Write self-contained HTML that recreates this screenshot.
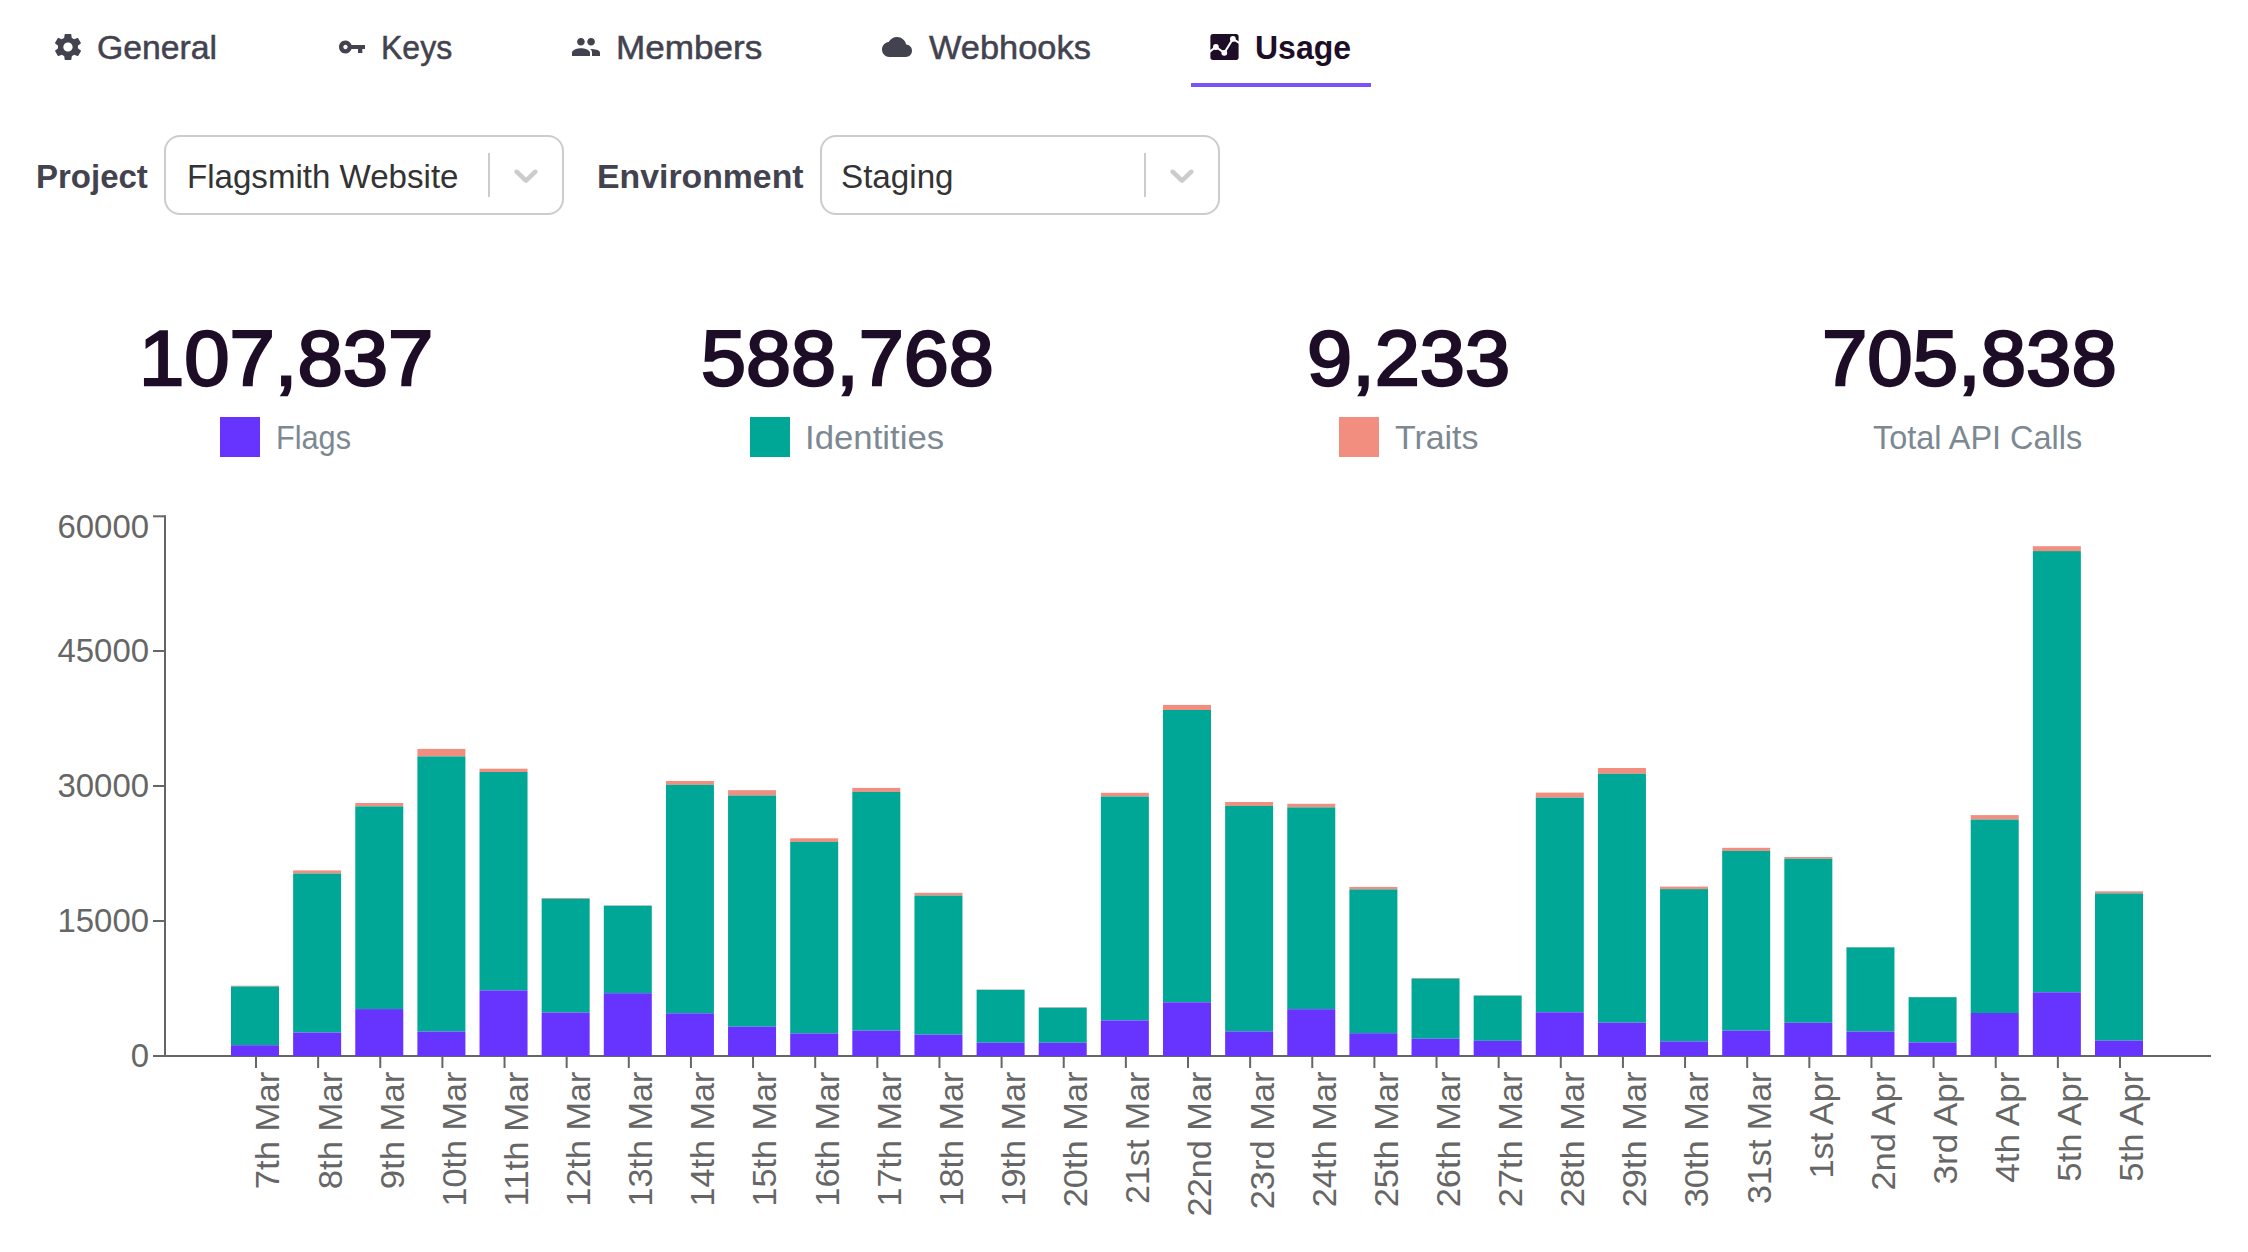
<!DOCTYPE html>
<html lang="en">
<head>
<meta charset="utf-8">
<title>Usage</title>
<style>
html,body{margin:0;padding:0;background:#fff;}
body{width:2248px;height:1252px;position:relative;overflow:hidden;font-family:"Liberation Sans",sans-serif;}
.t{position:absolute;white-space:nowrap;line-height:1;transform-origin:0 0;}
.ico{position:absolute;display:block;overflow:visible;}
.tab{color:#43424f;-webkit-text-stroke:0.5px #43424f;}
.tab.active{color:#1e0d26;font-weight:700;-webkit-text-stroke:0;}
.underline{position:absolute;left:1191px;top:83px;width:180px;height:4px;background:#7b51fb;}
.lbl{color:#43424f;font-weight:700;}
.sel{position:absolute;top:135px;height:76px;width:396px;border:2px solid #cccccc;border-radius:16px;background:#fff;}
.sel .sep{position:absolute;left:322px;top:16px;width:2px;height:44px;background:#cccccc;}
.sel svg{position:absolute;left:340px;top:18px;}
.val{color:#333333;}
.num{color:#1e0d26;font-weight:400;-webkit-text-stroke:2.4px #1e0d26;}
.cap{color:#7c8992;}
.sq{position:absolute;top:417px;width:40px;height:40px;}
.chart{position:absolute;left:0;top:500px;font-family:"Liberation Sans",sans-serif;}
</style>
</head>
<body>
<nav class="tabs">
<svg class="ico" style="left:52px;top:31px" width="32" height="32" viewBox="0 0 512 512"><path fill="#43424f" d="M413.967 276.8c1.06-6.235 1.06-13.518 1.06-20.8s-1.06-13.518-1.06-20.8l44.667-34.318c4.26-3.118 5.319-8.317 2.13-13.518L418.215 115.6c-2.129-4.164-8.507-6.235-12.767-4.164l-53.186 20.801c-10.638-8.318-23.394-15.601-36.16-20.801l-7.448-55.117c-1.06-4.154-5.319-8.318-10.638-8.318h-85.098c-5.318 0-9.577 4.164-10.637 8.318l-8.508 55.117c-12.767 5.2-24.464 12.482-36.171 20.801l-53.186-20.801c-5.319-2.071-10.638 0-12.767 4.164L49.1 187.365c-2.119 4.153-1.061 10.399 2.129 13.518L96.97 235.2c0 7.282-1.06 13.518-1.06 20.8s1.06 13.518 1.06 20.8l-44.668 34.318c-4.26 3.118-5.318 8.317-2.13 13.518L92.721 396.4c2.13 4.164 8.508 6.235 12.767 4.164l53.187-20.801c10.637 8.318 23.394 15.601 36.16 20.801l8.508 55.117c1.069 5.2 5.318 8.318 10.637 8.318h85.098c5.319 0 9.578-4.164 10.638-8.318l8.518-55.117c12.757-5.2 24.464-12.482 36.16-20.801l53.187 20.801c5.318 2.071 10.637 0 12.767-4.164l42.549-71.765c2.129-4.153 1.06-10.399-2.13-13.518l-46.8-34.317zm-158.499 52c-41.489 0-74.46-32.235-74.46-72.8s32.971-72.8 74.46-72.8 74.46 32.235 74.46 72.8-32.971 72.8-74.46 72.8z"/></svg><span class="t tab" style="left:97.43px;top:30.60px;font-size:33px;letter-spacing:0.000px;transform:scaleX(1.0230);">General</span>
<svg class="ico" style="left:336px;top:31px" width="32" height="32" viewBox="0 0 512 512"><path fill="#43424f" d="M249.2 224c-14.2-40.2-55.1-72-100.2-72-57.2 0-101 46.8-101 104s45.8 104 103 104c45.1 0 84.1-31.8 98.2-72H352v64h69.1v-64H464v-64H249.2zm-97.6 66.5c-19 0-34.5-15.5-34.5-34.5s15.5-34.5 34.5-34.5 34.5 15.5 34.5 34.5-15.5 34.5-34.5 34.5z"/></svg><span class="t tab" style="left:381.14px;top:30.60px;font-size:33px;letter-spacing:0.000px;transform:scaleX(0.9696);">Keys</span>
<svg class="ico" style="left:570px;top:31px" width="32" height="32" viewBox="0 0 512 512"><path fill="#43424f" d="M337.454 232c33.599 0 61.092-27.002 61.092-60 0-32.997-27.493-60-61.092-60s-61.09 27.003-61.09 60c0 32.998 27.491 60 61.09 60zm-162.908 0c33.599 0 61.09-27.002 61.09-60 0-32.997-27.491-60-61.09-60s-61.092 27.003-61.092 60c0 32.998 27.493 60 61.092 60zm0 44C126.688 276 32 298.998 32 346v54h288v-54c0-47.002-97.599-70-145.454-70zm162.908 11.003c-6.105 0-10.325 0-17.454.997 23.426 17.002 32 28 32 58v54h128v-54c0-47.002-94.688-58.997-142.546-58.997z"/></svg><span class="t tab" style="left:616.15px;top:30.60px;font-size:33px;letter-spacing:0.000px;transform:scaleX(1.0643);">Members</span>
<svg class="ico" style="left:881.4px;top:31px" width="32" height="32" viewBox="0 0 512 512"><path fill="#43424f" d="M403.002 217.001C388.998 148.002 328.998 96 256 96c-57.998 0-107.998 32.998-132.998 81.001C63.002 183.002 16 233.998 16 296c0 65.996 53.999 120 120 120h260c55 0 100-45 100-100 0-52.998-40.996-96.001-92.998-98.999z"/></svg><span class="t tab" style="left:928.94px;top:30.60px;font-size:33px;letter-spacing:0.000px;transform:scaleX(1.0423);">Webhooks</span>
<svg class="ico" style="left:1210px;top:34px" width="29" height="26" viewBox="0 0 29 26">
<rect x="0.4" y="0.1" width="28.2" height="25.8" rx="2.6" fill="#1e0d26"/>
<polyline points="-0.6,17.9 5.9,13 14.3,18.8 22.9,4.9 29.6,9.1" fill="none" stroke="#fff" stroke-width="2"/>
<circle cx="5.9" cy="13" r="2.9" fill="#fff"/><circle cx="14.3" cy="18.8" r="2.9" fill="#fff"/><circle cx="22.9" cy="4.9" r="2.9" fill="#fff"/>
</svg><span class="t tab active" style="left:1255.12px;top:30.60px;font-size:33px;letter-spacing:0.000px;transform:scaleX(0.9692);">Usage</span>
<div class="underline"></div>
</nav>
<section class="filters">
<span class="t lbl" style="left:36.20px;top:159.90px;font-size:33px;letter-spacing:0.000px;transform:scaleX(0.9998);">Project</span>
<div class="sel" style="left:164px"><div class="sep"></div><svg width="40" height="40" viewBox="0 0 20 20"><path fill="#cccccc" d="M4.516 7.548c0.436-0.446 1.043-0.481 1.576 0l3.908 3.747 3.908-3.747c0.533-0.481 1.141-0.446 1.574 0 0.436 0.445 0.408 1.197 0 1.615-0.406 0.418-4.695 4.502-4.695 4.502-0.217 0.223-0.502 0.335-0.787 0.335s-0.57-0.112-0.789-0.335c0 0-4.287-4.084-4.695-4.502s-0.436-1.17 0-1.615z"/></svg></div>
<span class="t val" style="left:187.12px;top:159.90px;font-size:33px;letter-spacing:0.000px;transform:scaleX(1.0025);">Flagsmith Website</span>
<span class="t lbl" style="left:597.32px;top:159.90px;font-size:33px;letter-spacing:0.000px;transform:scaleX(1.0242);">Environment</span>
<div class="sel" style="left:820px"><div class="sep"></div><svg width="40" height="40" viewBox="0 0 20 20"><path fill="#cccccc" d="M4.516 7.548c0.436-0.446 1.043-0.481 1.576 0l3.908 3.747 3.908-3.747c0.533-0.481 1.141-0.446 1.574 0 0.436 0.445 0.408 1.197 0 1.615-0.406 0.418-4.695 4.502-4.695 4.502-0.217 0.223-0.502 0.335-0.787 0.335s-0.57-0.112-0.789-0.335c0 0-4.287-4.084-4.695-4.502s-0.436-1.17 0-1.615z"/></svg></div>
<span class="t val" style="left:840.58px;top:159.90px;font-size:33px;letter-spacing:0.000px;transform:scaleX(1.0058);">Staging</span>
</section>
<section class="stats">
<span class="t num" style="left:139.01px;top:318.68px;font-size:78px;letter-spacing:0.000px;transform:scaleX(1.0439);">107,837</span>
<div class="sq" style="left:220px;background:#6633ff"></div><span class="t cap" style="left:275.89px;top:420.98px;font-size:33px;letter-spacing:0.000px;transform:scaleX(0.9296);">Flags</span>
<span class="t num" style="left:701.16px;top:318.68px;font-size:78px;letter-spacing:0.000px;transform:scaleX(1.0385);">588,768</span>
<div class="sq" style="left:750px;background:#00a696"></div><span class="t cap" style="left:805.49px;top:420.98px;font-size:33px;letter-spacing:0.000px;transform:scaleX(1.0531);">Identities</span>
<span class="t num" style="left:1306.71px;top:318.68px;font-size:78px;letter-spacing:0.000px;transform:scaleX(1.0407);">9,233</span>
<div class="sq" style="left:1339px;background:#f18e7f"></div><span class="t cap" style="left:1394.67px;top:420.98px;font-size:33px;letter-spacing:0.000px;transform:scaleX(1.0269);">Traits</span>
<span class="t num" style="left:1821.92px;top:318.68px;font-size:78px;letter-spacing:0.000px;transform:scaleX(1.0456);">705,838</span>
<span class="t cap" style="left:1873.11px;top:420.98px;font-size:33px;letter-spacing:0.000px;transform:scaleX(0.9831);">Total API Calls</span>
</section>
<svg class="chart" width="2248" height="752" viewBox="0 500 2248 752">
<g class="axes" stroke="#666666" stroke-width="2" fill="none">
<line x1="165" y1="515.3" x2="165" y2="1056.0"/>
<line x1="165" y1="1056.0" x2="2211" y2="1056.0"/>
<line x1="153" y1="516.3" x2="165" y2="516.3"/>
<line x1="153" y1="651.0" x2="165" y2="651.0"/>
<line x1="153" y1="786.0" x2="165" y2="786.0"/>
<line x1="153" y1="921.0" x2="165" y2="921.0"/>
<line x1="153" y1="1056.0" x2="165" y2="1056.0"/>
<line x1="256.00" y1="1056.0" x2="256.00" y2="1068.0"/>
<line x1="318.13" y1="1056.0" x2="318.13" y2="1068.0"/>
<line x1="380.27" y1="1056.0" x2="380.27" y2="1068.0"/>
<line x1="442.40" y1="1056.0" x2="442.40" y2="1068.0"/>
<line x1="504.53" y1="1056.0" x2="504.53" y2="1068.0"/>
<line x1="566.66" y1="1056.0" x2="566.66" y2="1068.0"/>
<line x1="628.80" y1="1056.0" x2="628.80" y2="1068.0"/>
<line x1="690.93" y1="1056.0" x2="690.93" y2="1068.0"/>
<line x1="753.06" y1="1056.0" x2="753.06" y2="1068.0"/>
<line x1="815.20" y1="1056.0" x2="815.20" y2="1068.0"/>
<line x1="877.33" y1="1056.0" x2="877.33" y2="1068.0"/>
<line x1="939.46" y1="1056.0" x2="939.46" y2="1068.0"/>
<line x1="1001.60" y1="1056.0" x2="1001.60" y2="1068.0"/>
<line x1="1063.73" y1="1056.0" x2="1063.73" y2="1068.0"/>
<line x1="1125.86" y1="1056.0" x2="1125.86" y2="1068.0"/>
<line x1="1187.99" y1="1056.0" x2="1187.99" y2="1068.0"/>
<line x1="1250.13" y1="1056.0" x2="1250.13" y2="1068.0"/>
<line x1="1312.26" y1="1056.0" x2="1312.26" y2="1068.0"/>
<line x1="1374.39" y1="1056.0" x2="1374.39" y2="1068.0"/>
<line x1="1436.53" y1="1056.0" x2="1436.53" y2="1068.0"/>
<line x1="1498.66" y1="1056.0" x2="1498.66" y2="1068.0"/>
<line x1="1560.79" y1="1056.0" x2="1560.79" y2="1068.0"/>
<line x1="1622.93" y1="1056.0" x2="1622.93" y2="1068.0"/>
<line x1="1685.06" y1="1056.0" x2="1685.06" y2="1068.0"/>
<line x1="1747.19" y1="1056.0" x2="1747.19" y2="1068.0"/>
<line x1="1809.33" y1="1056.0" x2="1809.33" y2="1068.0"/>
<line x1="1871.46" y1="1056.0" x2="1871.46" y2="1068.0"/>
<line x1="1933.59" y1="1056.0" x2="1933.59" y2="1068.0"/>
<line x1="1995.72" y1="1056.0" x2="1995.72" y2="1068.0"/>
<line x1="2057.86" y1="1056.0" x2="2057.86" y2="1068.0"/>
<line x1="2119.99" y1="1056.0" x2="2119.99" y2="1068.0"/>
</g>
<g class="bars">
<rect x="231.00" y="985.70" width="48.0" height="0.80" fill="#f18e7f"/>
<rect x="231.00" y="986.50" width="48.0" height="58.70" fill="#00a696"/>
<rect x="231.00" y="1045.20" width="48.0" height="10.80" fill="#6633ff"/>
<rect x="293.13" y="870.40" width="48.0" height="3.10" fill="#f18e7f"/>
<rect x="293.13" y="873.50" width="48.0" height="159.00" fill="#00a696"/>
<rect x="293.13" y="1032.50" width="48.0" height="23.50" fill="#6633ff"/>
<rect x="355.27" y="803.00" width="48.0" height="3.40" fill="#f18e7f"/>
<rect x="355.27" y="806.40" width="48.0" height="202.70" fill="#00a696"/>
<rect x="355.27" y="1009.10" width="48.0" height="46.90" fill="#6633ff"/>
<rect x="417.40" y="748.90" width="48.0" height="7.50" fill="#f18e7f"/>
<rect x="417.40" y="756.40" width="48.0" height="275.10" fill="#00a696"/>
<rect x="417.40" y="1031.50" width="48.0" height="24.50" fill="#6633ff"/>
<rect x="479.53" y="768.70" width="48.0" height="3.30" fill="#f18e7f"/>
<rect x="479.53" y="772.00" width="48.0" height="218.40" fill="#00a696"/>
<rect x="479.53" y="990.40" width="48.0" height="65.60" fill="#6633ff"/>
<rect x="541.66" y="898.00" width="48.0" height="0.70" fill="#f18e7f"/>
<rect x="541.66" y="898.70" width="48.0" height="113.80" fill="#00a696"/>
<rect x="541.66" y="1012.50" width="48.0" height="43.50" fill="#6633ff"/>
<rect x="603.80" y="905.40" width="48.0" height="0.30" fill="#f18e7f"/>
<rect x="603.80" y="905.70" width="48.0" height="87.50" fill="#00a696"/>
<rect x="603.80" y="993.20" width="48.0" height="62.80" fill="#6633ff"/>
<rect x="665.93" y="781.00" width="48.0" height="3.80" fill="#f18e7f"/>
<rect x="665.93" y="784.80" width="48.0" height="228.50" fill="#00a696"/>
<rect x="665.93" y="1013.30" width="48.0" height="42.70" fill="#6633ff"/>
<rect x="728.06" y="790.20" width="48.0" height="5.30" fill="#f18e7f"/>
<rect x="728.06" y="795.50" width="48.0" height="231.20" fill="#00a696"/>
<rect x="728.06" y="1026.70" width="48.0" height="29.30" fill="#6633ff"/>
<rect x="790.20" y="838.30" width="48.0" height="3.60" fill="#f18e7f"/>
<rect x="790.20" y="841.90" width="48.0" height="191.50" fill="#00a696"/>
<rect x="790.20" y="1033.40" width="48.0" height="22.60" fill="#6633ff"/>
<rect x="852.33" y="787.90" width="48.0" height="4.00" fill="#f18e7f"/>
<rect x="852.33" y="791.90" width="48.0" height="238.70" fill="#00a696"/>
<rect x="852.33" y="1030.60" width="48.0" height="25.40" fill="#6633ff"/>
<rect x="914.46" y="892.80" width="48.0" height="2.80" fill="#f18e7f"/>
<rect x="914.46" y="895.60" width="48.0" height="139.00" fill="#00a696"/>
<rect x="914.46" y="1034.60" width="48.0" height="21.40" fill="#6633ff"/>
<rect x="976.60" y="989.50" width="48.0" height="0.30" fill="#f18e7f"/>
<rect x="976.60" y="989.80" width="48.0" height="52.90" fill="#00a696"/>
<rect x="976.60" y="1042.70" width="48.0" height="13.30" fill="#6633ff"/>
<rect x="1038.73" y="1007.20" width="48.0" height="0.50" fill="#f18e7f"/>
<rect x="1038.73" y="1007.70" width="48.0" height="35.00" fill="#00a696"/>
<rect x="1038.73" y="1042.70" width="48.0" height="13.30" fill="#6633ff"/>
<rect x="1100.86" y="792.80" width="48.0" height="3.70" fill="#f18e7f"/>
<rect x="1100.86" y="796.50" width="48.0" height="223.90" fill="#00a696"/>
<rect x="1100.86" y="1020.40" width="48.0" height="35.60" fill="#6633ff"/>
<rect x="1162.99" y="704.90" width="48.0" height="5.10" fill="#f18e7f"/>
<rect x="1162.99" y="710.00" width="48.0" height="292.30" fill="#00a696"/>
<rect x="1162.99" y="1002.30" width="48.0" height="53.70" fill="#6633ff"/>
<rect x="1225.13" y="802.00" width="48.0" height="3.90" fill="#f18e7f"/>
<rect x="1225.13" y="805.90" width="48.0" height="225.50" fill="#00a696"/>
<rect x="1225.13" y="1031.40" width="48.0" height="24.60" fill="#6633ff"/>
<rect x="1287.26" y="803.80" width="48.0" height="3.60" fill="#f18e7f"/>
<rect x="1287.26" y="807.40" width="48.0" height="201.80" fill="#00a696"/>
<rect x="1287.26" y="1009.20" width="48.0" height="46.80" fill="#6633ff"/>
<rect x="1349.39" y="886.90" width="48.0" height="2.50" fill="#f18e7f"/>
<rect x="1349.39" y="889.40" width="48.0" height="143.80" fill="#00a696"/>
<rect x="1349.39" y="1033.20" width="48.0" height="22.80" fill="#6633ff"/>
<rect x="1411.53" y="978.00" width="48.0" height="0.60" fill="#f18e7f"/>
<rect x="1411.53" y="978.60" width="48.0" height="60.10" fill="#00a696"/>
<rect x="1411.53" y="1038.70" width="48.0" height="17.30" fill="#6633ff"/>
<rect x="1473.66" y="995.30" width="48.0" height="0.30" fill="#f18e7f"/>
<rect x="1473.66" y="995.60" width="48.0" height="45.20" fill="#00a696"/>
<rect x="1473.66" y="1040.80" width="48.0" height="15.20" fill="#6633ff"/>
<rect x="1535.79" y="792.60" width="48.0" height="5.10" fill="#f18e7f"/>
<rect x="1535.79" y="797.70" width="48.0" height="214.60" fill="#00a696"/>
<rect x="1535.79" y="1012.30" width="48.0" height="43.70" fill="#6633ff"/>
<rect x="1597.93" y="768.00" width="48.0" height="5.80" fill="#f18e7f"/>
<rect x="1597.93" y="773.80" width="48.0" height="248.80" fill="#00a696"/>
<rect x="1597.93" y="1022.60" width="48.0" height="33.40" fill="#6633ff"/>
<rect x="1660.06" y="886.60" width="48.0" height="2.50" fill="#f18e7f"/>
<rect x="1660.06" y="889.10" width="48.0" height="152.30" fill="#00a696"/>
<rect x="1660.06" y="1041.40" width="48.0" height="14.60" fill="#6633ff"/>
<rect x="1722.19" y="847.80" width="48.0" height="3.10" fill="#f18e7f"/>
<rect x="1722.19" y="850.90" width="48.0" height="179.70" fill="#00a696"/>
<rect x="1722.19" y="1030.60" width="48.0" height="25.40" fill="#6633ff"/>
<rect x="1784.33" y="857.00" width="48.0" height="1.80" fill="#f18e7f"/>
<rect x="1784.33" y="858.80" width="48.0" height="163.90" fill="#00a696"/>
<rect x="1784.33" y="1022.70" width="48.0" height="33.30" fill="#6633ff"/>
<rect x="1846.46" y="947.10" width="48.0" height="0.30" fill="#f18e7f"/>
<rect x="1846.46" y="947.40" width="48.0" height="84.10" fill="#00a696"/>
<rect x="1846.46" y="1031.50" width="48.0" height="24.50" fill="#6633ff"/>
<rect x="1908.59" y="996.90" width="48.0" height="0.30" fill="#f18e7f"/>
<rect x="1908.59" y="997.20" width="48.0" height="45.20" fill="#00a696"/>
<rect x="1908.59" y="1042.40" width="48.0" height="13.60" fill="#6633ff"/>
<rect x="1970.72" y="815.10" width="48.0" height="4.50" fill="#f18e7f"/>
<rect x="1970.72" y="819.60" width="48.0" height="193.40" fill="#00a696"/>
<rect x="1970.72" y="1013.00" width="48.0" height="43.00" fill="#6633ff"/>
<rect x="2032.86" y="546.20" width="48.0" height="4.90" fill="#f18e7f"/>
<rect x="2032.86" y="551.10" width="48.0" height="441.20" fill="#00a696"/>
<rect x="2032.86" y="992.30" width="48.0" height="63.70" fill="#6633ff"/>
<rect x="2094.99" y="891.30" width="48.0" height="2.10" fill="#f18e7f"/>
<rect x="2094.99" y="893.40" width="48.0" height="147.20" fill="#00a696"/>
<rect x="2094.99" y="1040.60" width="48.0" height="15.40" fill="#6633ff"/>
</g>
<g class="ylabels" fill="#666666" font-size="33" text-anchor="end">
<text x="149" y="538.10" textLength="91.5" lengthAdjust="spacingAndGlyphs">60000</text>
<text x="149" y="661.90" textLength="91.5" lengthAdjust="spacingAndGlyphs">45000</text>
<text x="149" y="796.90" textLength="91.5" lengthAdjust="spacingAndGlyphs">30000</text>
<text x="149" y="931.90" textLength="91.5" lengthAdjust="spacingAndGlyphs">15000</text>
<text x="149" y="1066.90" textLength="18.3" lengthAdjust="spacingAndGlyphs">0</text>
</g>
<g class="xlabels" fill="#666666" font-size="33" text-anchor="end">
<text transform="translate(279.40,1071.6) rotate(-90)" textLength="117.7" lengthAdjust="spacingAndGlyphs">7th Mar</text>
<text transform="translate(341.53,1071.6) rotate(-90)" textLength="117.7" lengthAdjust="spacingAndGlyphs">8th Mar</text>
<text transform="translate(403.67,1071.6) rotate(-90)" textLength="117.7" lengthAdjust="spacingAndGlyphs">9th Mar</text>
<text transform="translate(465.80,1071.6) rotate(-90)" textLength="135.0" lengthAdjust="spacingAndGlyphs">10th Mar</text>
<text transform="translate(527.93,1071.6) rotate(-90)" textLength="135.0" lengthAdjust="spacingAndGlyphs">11th Mar</text>
<text transform="translate(590.06,1071.6) rotate(-90)" textLength="135.0" lengthAdjust="spacingAndGlyphs">12th Mar</text>
<text transform="translate(652.20,1071.6) rotate(-90)" textLength="135.0" lengthAdjust="spacingAndGlyphs">13th Mar</text>
<text transform="translate(714.33,1071.6) rotate(-90)" textLength="135.0" lengthAdjust="spacingAndGlyphs">14th Mar</text>
<text transform="translate(776.46,1071.6) rotate(-90)" textLength="135.0" lengthAdjust="spacingAndGlyphs">15th Mar</text>
<text transform="translate(838.60,1071.6) rotate(-90)" textLength="135.0" lengthAdjust="spacingAndGlyphs">16th Mar</text>
<text transform="translate(900.73,1071.6) rotate(-90)" textLength="135.0" lengthAdjust="spacingAndGlyphs">17th Mar</text>
<text transform="translate(962.86,1071.6) rotate(-90)" textLength="135.0" lengthAdjust="spacingAndGlyphs">18th Mar</text>
<text transform="translate(1025.00,1071.6) rotate(-90)" textLength="135.0" lengthAdjust="spacingAndGlyphs">19th Mar</text>
<text transform="translate(1087.13,1071.6) rotate(-90)" textLength="135.7" lengthAdjust="spacingAndGlyphs">20th Mar</text>
<text transform="translate(1149.26,1071.6) rotate(-90)" textLength="132.4" lengthAdjust="spacingAndGlyphs">21st Mar</text>
<text transform="translate(1211.39,1071.6) rotate(-90)" textLength="144.8" lengthAdjust="spacingAndGlyphs">22nd Mar</text>
<text transform="translate(1273.53,1071.6) rotate(-90)" textLength="137.7" lengthAdjust="spacingAndGlyphs">23rd Mar</text>
<text transform="translate(1335.66,1071.6) rotate(-90)" textLength="135.7" lengthAdjust="spacingAndGlyphs">24th Mar</text>
<text transform="translate(1397.79,1071.6) rotate(-90)" textLength="135.7" lengthAdjust="spacingAndGlyphs">25th Mar</text>
<text transform="translate(1459.93,1071.6) rotate(-90)" textLength="135.7" lengthAdjust="spacingAndGlyphs">26th Mar</text>
<text transform="translate(1522.06,1071.6) rotate(-90)" textLength="135.7" lengthAdjust="spacingAndGlyphs">27th Mar</text>
<text transform="translate(1584.19,1071.6) rotate(-90)" textLength="135.7" lengthAdjust="spacingAndGlyphs">28th Mar</text>
<text transform="translate(1646.33,1071.6) rotate(-90)" textLength="135.7" lengthAdjust="spacingAndGlyphs">29th Mar</text>
<text transform="translate(1708.46,1071.6) rotate(-90)" textLength="135.7" lengthAdjust="spacingAndGlyphs">30th Mar</text>
<text transform="translate(1770.59,1071.6) rotate(-90)" textLength="132.4" lengthAdjust="spacingAndGlyphs">31st Mar</text>
<text transform="translate(1832.73,1071.6) rotate(-90)" textLength="107.0" lengthAdjust="spacingAndGlyphs">1st Apr</text>
<text transform="translate(1894.86,1071.6) rotate(-90)" textLength="119.0" lengthAdjust="spacingAndGlyphs">2nd Apr</text>
<text transform="translate(1956.99,1071.6) rotate(-90)" textLength="112.8" lengthAdjust="spacingAndGlyphs">3rd Apr</text>
<text transform="translate(2019.12,1071.6) rotate(-90)" textLength="111.2" lengthAdjust="spacingAndGlyphs">4th Apr</text>
<text transform="translate(2081.26,1071.6) rotate(-90)" textLength="110.1" lengthAdjust="spacingAndGlyphs">5th Apr</text>
<text transform="translate(2143.39,1071.6) rotate(-90)" textLength="110.1" lengthAdjust="spacingAndGlyphs">5th Apr</text>
</g>
</svg>
</body>
</html>
